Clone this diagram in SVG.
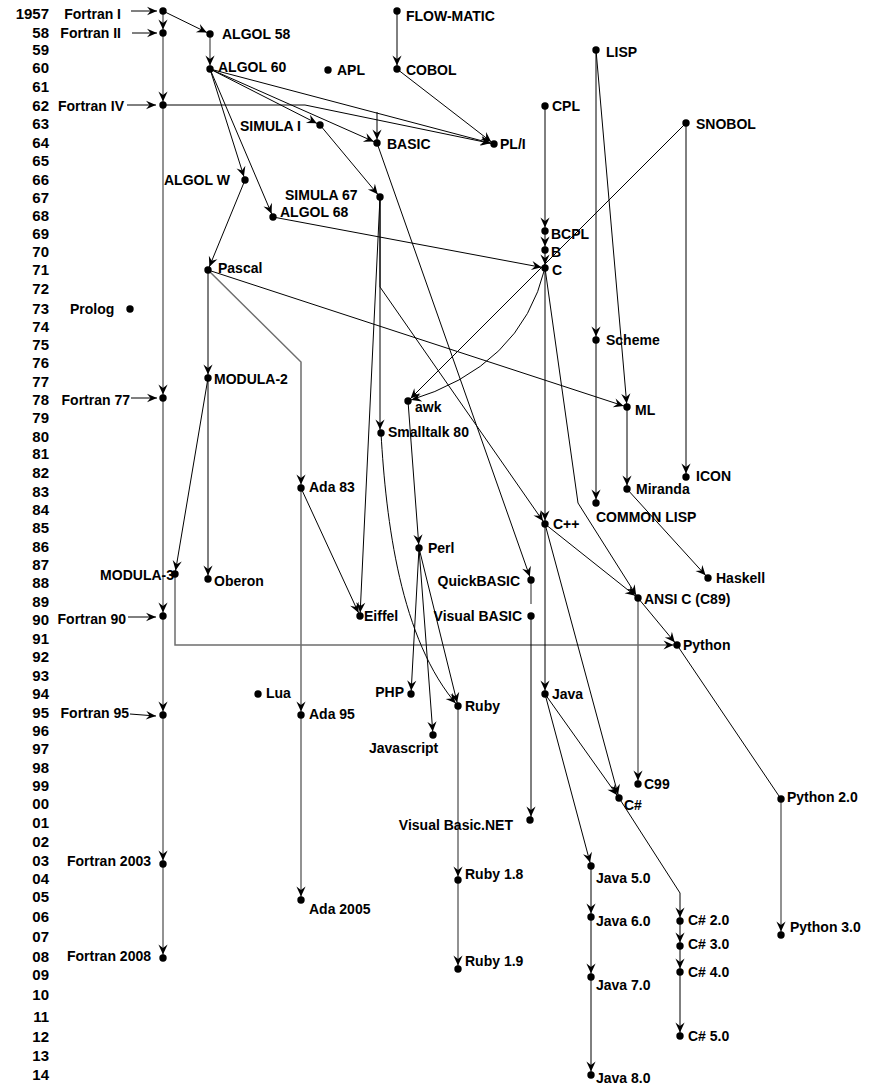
<svg xmlns="http://www.w3.org/2000/svg" width="873" height="1091" viewBox="0 0 873 1091">
<style>
text{font-family:"Liberation Sans",Arial,sans-serif;font-weight:bold;font-size:14px;fill:#000}
.yr{text-anchor:end;font-size:15px}
.e{text-anchor:end}
.k{fill:none;stroke:#000;stroke-width:1}
.g{fill:none;stroke:#6e6e6e;stroke-width:1.5}
.a{marker-end:url(#ah)}
.a0{marker-end:url(#ah0)}
circle{fill:#000}
</style>
<defs>
<marker id="ah" markerUnits="userSpaceOnUse" markerWidth="18" markerHeight="12" viewBox="-16 -6 18 12" refX="0" refY="0" orient="auto"><path d="M-3.6,0 L-13.5,-4.6 L-10,0 L-13.5,4.6 Z" fill="#000"/></marker>
<marker id="ah0" markerUnits="userSpaceOnUse" markerWidth="14" markerHeight="12" viewBox="-12 -6 14 12" refX="0" refY="0" orient="auto"><path d="M0,0 L-10,-4.3 L-6.5,0 L-10,4.3 Z" fill="#000"/></marker>
</defs>
<g id="years">
<text class="yr" x="49" y="19">1957</text><text class="yr" x="49" y="38">58</text><text class="yr" x="49" y="55">59</text><text class="yr" x="49" y="73">60</text><text class="yr" x="49" y="92">61</text><text class="yr" x="49" y="111">62</text><text class="yr" x="49" y="129">63</text><text class="yr" x="49" y="148">64</text><text class="yr" x="49" y="166">65</text><text class="yr" x="49" y="185">66</text><text class="yr" x="49" y="203">67</text><text class="yr" x="49" y="221">68</text><text class="yr" x="49" y="239">69</text><text class="yr" x="49" y="257">70</text><text class="yr" x="49" y="275">71</text><text class="yr" x="49" y="294">72</text><text class="yr" x="49" y="314">73</text><text class="yr" x="49" y="332">74</text><text class="yr" x="49" y="350">75</text><text class="yr" x="49" y="368">76</text><text class="yr" x="49" y="387">77</text><text class="yr" x="49" y="405">78</text><text class="yr" x="49" y="423">79</text><text class="yr" x="49" y="442">80</text><text class="yr" x="49" y="459">81</text><text class="yr" x="49" y="478">82</text><text class="yr" x="49" y="497">83</text><text class="yr" x="49" y="515">84</text><text class="yr" x="49" y="533">85</text><text class="yr" x="49" y="552">86</text><text class="yr" x="49" y="570">87</text><text class="yr" x="49" y="588">88</text><text class="yr" x="49" y="607">89</text><text class="yr" x="49" y="625">90</text><text class="yr" x="49" y="644">91</text><text class="yr" x="49" y="662">92</text><text class="yr" x="49" y="681">93</text><text class="yr" x="49" y="699">94</text><text class="yr" x="49" y="718">95</text><text class="yr" x="49" y="736">96</text><text class="yr" x="49" y="754">97</text><text class="yr" x="49" y="773">98</text><text class="yr" x="49" y="791">99</text><text class="yr" x="49" y="809">00</text><text class="yr" x="49" y="828">01</text><text class="yr" x="49" y="847">02</text><text class="yr" x="49" y="866">03</text><text class="yr" x="49" y="884">04</text><text class="yr" x="49" y="902">05</text><text class="yr" x="49" y="922">06</text><text class="yr" x="49" y="942">07</text><text class="yr" x="49" y="962">08</text><text class="yr" x="49" y="980">09</text><text class="yr" x="49" y="1000">10</text><text class="yr" x="49" y="1022">11</text><text class="yr" x="49" y="1042">12</text><text class="yr" x="49" y="1061">13</text><text class="yr" x="49" y="1080">14</text>
</g>
<g id="connectors">
<path class="g a" d="M163,11 V33"/><path class="g a" d="M163,33 V105"/><path class="g a" d="M163,105 V398"/><path class="g a" d="M163,398 V616"/><path class="g a" d="M163,616 V715"/><path class="g a" d="M163,715 V864"/><path class="g a" d="M163,864 V958"/>
<path class="k a0" d="M131,11 H157"/><path class="k a0" d="M132,33 H157"/><path class="k a0" d="M127,105 H156"/><path class="k a0" d="M131,398 H157"/><path class="k a0" d="M128,617 H156"/><path class="k a0" d="M130,714 L156,716"/>
<path class="k a" d="M163,11 L210,34"/>
<path class="g a" d="M210,34 V69"/>
<path class="k a" d="M397,11 V69"/>
<path class="k a" d="M397,69 L494,144"/>
<path class="k a" d="M210,69 L494,144"/>
<path class="k a" d="M163,105 H305 L494,144"/>
<path class="k a" d="M210,69 L377,143"/>
<path class="k a" d="M377,112 V143"/>
<path class="k a" d="M210,69 L320,125"/>
<path class="k a" d="M320,125 L380,197"/>
<path class="k a" d="M210,69 L245,180"/>
<path class="k a" d="M210,69 L273,217"/>
<path class="k a" d="M245,180 L208,270"/>
<path class="k a" d="M273,217 L545,268"/>
<path class="k a" d="M545,106 V231"/><path class="k a" d="M545,231 V250"/><path class="k a" d="M545,250 V268"/>
<path class="k a" d="M596,50 V340"/><path class="k a" d="M596,50 L627,407"/><path class="k a" d="M596,340 V503"/><path class="k a" d="M627,407 V489"/><path class="k a" d="M627,489 L708,578"/><path class="k a" d="M208,270 L627,407"/>
<path class="k a" d="M686,123 V477"/><path class="k a" d="M686,123 L408,401"/><path class="k a" d="M545,268 Q521,367 408,401"/>
<path class="k a" d="M545,268 V524"/><path class="k a" d="M545,268 L578,503 L638,598"/><path class="k a" d="M545,524 L638,598"/><path class="k a" d="M380,197 V287 L545,524"/>
<path class="g a" d="M638,598 V784"/><path class="k a" d="M638,598 L677,645"/><path class="g a" d="M175,574 V645 H677"/><path class="k" d="M677,645 L781,799"/><path class="g a" d="M781,799 V935"/>
<path class="k a" d="M208,270 V378"/><path class="k a" d="M208,378 L175,574"/><path class="k a" d="M208,378 V579"/><path class="g a" d="M208,270 L301,362 V488"/><path class="g a" d="M301,488 V715"/><path class="g a" d="M301,715 V900"/><path class="k a" d="M301,488 L360,616"/><path class="k a" d="M380,197 L360,616"/><path class="k a" d="M380,197 V433"/>
<path class="k a" d="M408,401 L419,548"/><path class="k a" d="M419,548 L411,694"/><path class="k a" d="M419,548 L433,735"/><path class="k a" d="M419,548 L458,706"/><path class="k a" d="M381,433 C386,520 400,640 458,706"/><path class="g a" d="M458,706 V880"/><path class="g a" d="M458,880 V969"/>
<path class="k a" d="M377,143 L531,580"/><path class="g" d="M531,580 V604"/><path class="k a" d="M531,616 V820"/>
<path class="k a" d="M545,524 V694"/><path class="k a" d="M545,524 L619,798"/><path class="k a" d="M545,694 L619,798"/><path class="k a" d="M545,694 L591,866"/><path class="k a" d="M591,866 V917"/><path class="k a" d="M591,917 V977"/><path class="k a" d="M591,977 V1075"/><path class="k a" d="M619,798 L680,893 V921"/><path class="k a" d="M680,921 V946"/><path class="k a" d="M680,946 V972"/><path class="k a" d="M680,972 V1036"/>
</g>
<g id="n-fortran1"><circle cx="163" cy="11" r="3.7"/><text class="e" x="121" y="19">Fortran I</text></g>
<g id="n-fortran2"><circle cx="163" cy="33" r="3.7"/><text class="e" x="121" y="38">Fortran II</text></g>
<g id="n-fortran4"><circle cx="163" cy="105" r="3.7"/><text class="e" x="124" y="111">Fortran IV</text></g>
<g id="n-fortran77"><circle cx="163" cy="398" r="3.7"/><text class="e" x="130" y="405">Fortran 77</text></g>
<g id="n-fortran90"><circle cx="163" cy="616" r="3.7"/><text class="e" x="126" y="624">Fortran 90</text></g>
<g id="n-fortran95"><circle cx="163" cy="715" r="3.7"/><text class="e" x="129" y="718">Fortran 95</text></g>
<g id="n-fortran2003"><circle cx="163" cy="864" r="3.7"/><text class="e" x="151" y="866">Fortran 2003</text></g>
<g id="n-fortran2008"><circle cx="163" cy="958" r="3.7"/><text class="e" x="151" y="961">Fortran 2008</text></g>
<g id="n-algol58"><circle cx="210" cy="34" r="3.7"/><text x="222" y="39">ALGOL 58</text></g>
<g id="n-algol60"><circle cx="210" cy="69" r="3.7"/><text x="218" y="72">ALGOL 60</text></g>
<g id="n-apl"><circle cx="328" cy="70" r="3.7"/><text x="337" y="75">APL</text></g>
<g id="n-flowmatic"><circle cx="397" cy="11" r="3.7"/><text x="406" y="21">FLOW-MATIC</text></g>
<g id="n-cobol"><circle cx="397" cy="69" r="3.7"/><text x="406" y="75">COBOL</text></g>
<g id="n-pli"><circle cx="494" cy="144" r="3.7"/><text x="500" y="149">PL/I</text></g>
<g id="n-simula1"><circle cx="320" cy="125" r="3.7"/><text x="240" y="131">SIMULA I</text></g>
<g id="n-basic"><circle cx="377" cy="143" r="3.7"/><text x="387" y="149">BASIC</text></g>
<g id="n-cpl"><circle cx="545" cy="106" r="3.7"/><text x="552" y="111">CPL</text></g>
<g id="n-lisp"><circle cx="596" cy="50" r="3.7"/><text x="606" y="57">LISP</text></g>
<g id="n-snobol"><circle cx="686" cy="123" r="3.7"/><text x="696" y="129">SNOBOL</text></g>
<g id="n-algolw"><circle cx="245" cy="180" r="3.7"/><text x="164" y="185">ALGOL W</text></g>
<g id="n-simula67"><circle cx="380" cy="197" r="3.7"/><text x="285" y="200">SIMULA 67</text></g>
<g id="n-algol68"><circle cx="273" cy="217" r="3.7"/><text x="280" y="217">ALGOL 68</text></g>
<g id="n-bcpl"><circle cx="545" cy="231" r="3.7"/><text x="551" y="239">BCPL</text></g>
<g id="n-b"><circle cx="545" cy="250" r="3.7"/><text x="551" y="257">B</text></g>
<g id="n-c"><circle cx="545" cy="268" r="3.7"/><text x="552" y="275">C</text></g>
<g id="n-pascal"><circle cx="208" cy="270" r="3.7"/><text x="218" y="273">Pascal</text></g>
<g id="n-prolog"><circle cx="130" cy="309" r="3.7"/><text x="70" y="314">Prolog</text></g>
<g id="n-scheme"><circle cx="596" cy="340" r="3.7"/><text x="606" y="345">Scheme</text></g>
<g id="n-modula2"><circle cx="208" cy="378" r="3.7"/><text x="214" y="384">MODULA-2</text></g>
<g id="n-awk"><circle cx="408" cy="401" r="3.7"/><text x="415" y="412">awk</text></g>
<g id="n-ml"><circle cx="627" cy="407" r="3.7"/><text x="635" y="415">ML</text></g>
<g id="n-smalltalk"><circle cx="381" cy="433" r="3.7"/><text x="388" y="437">Smalltalk 80</text></g>
<g id="n-icon"><circle cx="686" cy="477" r="3.7"/><text x="696" y="481">ICON</text></g>
<g id="n-ada83"><circle cx="301" cy="488" r="3.7"/><text x="309" y="492">Ada 83</text></g>
<g id="n-miranda"><circle cx="627" cy="489" r="3.7"/><text x="636" y="494">Miranda</text></g>
<g id="n-commonlisp"><circle cx="596" cy="503" r="3.7"/><text x="596" y="522">COMMON LISP</text></g>
<g id="n-cpp"><circle cx="545" cy="524" r="3.7"/><text x="553" y="529">C++</text></g>
<g id="n-perl"><circle cx="419" cy="548" r="3.7"/><text x="428" y="553">Perl</text></g>
<g id="n-modula3"><circle cx="175" cy="574" r="3.7"/><text class="e" x="174" y="580">MODULA-3</text></g>
<g id="n-oberon"><circle cx="208" cy="579" r="3.7"/><text x="214" y="586">Oberon</text></g>
<g id="n-haskell"><circle cx="708" cy="578" r="3.7"/><text x="716" y="583">Haskell</text></g>
<g id="n-quickbasic"><circle cx="531" cy="580" r="3.7"/><text class="e" x="520" y="586">QuickBASIC</text></g>
<g id="n-ansic"><circle cx="638" cy="598" r="3.7"/><text x="644" y="604">ANSI C (C89)</text></g>
<g id="n-eiffel"><circle cx="360" cy="616" r="3.7"/><text x="364" y="621">Eiffel</text></g>
<g id="n-visualbasic"><circle cx="531" cy="616" r="3.7"/><text class="e" x="522" y="621">Visual BASIC</text></g>
<g id="n-python"><circle cx="677" cy="645" r="3.7"/><text x="683" y="650">Python</text></g>
<g id="n-lua"><circle cx="258" cy="694" r="3.7"/><text x="266" y="698">Lua</text></g>
<g id="n-php"><circle cx="411" cy="694" r="3.7"/><text class="e" x="404" y="697">PHP</text></g>
<g id="n-java"><circle cx="545" cy="694" r="3.7"/><text x="552" y="699">Java</text></g>
<g id="n-ada95"><circle cx="301" cy="715" r="3.7"/><text x="309" y="719">Ada 95</text></g>
<g id="n-ruby"><circle cx="458" cy="706" r="3.7"/><text x="465" y="711">Ruby</text></g>
<g id="n-javascript"><circle cx="433" cy="735" r="3.7"/><text x="369" y="753">Javascript</text></g>
<g id="n-c99"><circle cx="638" cy="784" r="3.7"/><text x="644" y="789">C99</text></g>
<g id="n-csharp"><circle cx="619" cy="798" r="3.7"/><text x="624" y="810">C#</text></g>
<g id="n-python2"><circle cx="781" cy="799" r="3.7"/><text x="787" y="802">Python 2.0</text></g>
<g id="n-vbnet"><circle cx="530" cy="820" r="3.7"/><text class="e" x="513" y="830">Visual Basic.NET</text></g>
<g id="n-java5"><circle cx="591" cy="866" r="3.7"/><text x="596" y="883">Java 5.0</text></g>
<g id="n-ruby18"><circle cx="458" cy="880" r="3.7"/><text x="465" y="879">Ruby 1.8</text></g>
<g id="n-ada2005"><circle cx="301" cy="900" r="3.7"/><text x="309" y="914">Ada 2005</text></g>
<g id="n-java6"><circle cx="591" cy="917" r="3.7"/><text x="596" y="926">Java 6.0</text></g>
<g id="n-csharp2"><circle cx="680" cy="921" r="3.7"/><text x="688" y="925">C# 2.0</text></g>
<g id="n-python3"><circle cx="781" cy="935" r="3.7"/><text x="790" y="932">Python 3.0</text></g>
<g id="n-csharp3"><circle cx="680" cy="946" r="3.7"/><text x="688" y="949">C# 3.0</text></g>
<g id="n-ruby19"><circle cx="458" cy="969" r="3.7"/><text x="465" y="966">Ruby 1.9</text></g>
<g id="n-csharp4"><circle cx="680" cy="972" r="3.7"/><text x="688" y="977">C# 4.0</text></g>
<g id="n-java7"><circle cx="591" cy="977" r="3.7"/><text x="596" y="990">Java 7.0</text></g>
<g id="n-csharp5"><circle cx="680" cy="1036" r="3.7"/><text x="688" y="1041">C# 5.0</text></g>
<g id="n-java8"><circle cx="591" cy="1075" r="3.7"/><text x="596" y="1083">Java 8.0</text></g>
</svg>
